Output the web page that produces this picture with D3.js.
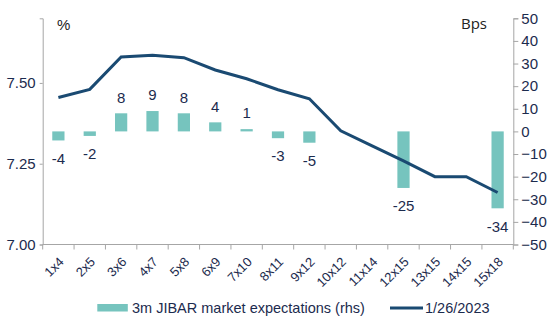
<!DOCTYPE html>
<html>
<head>
<meta charset="utf-8">
<script src="https://cdn.jsdelivr.net/npm/d3@7"></script>
<style>
  body { margin: 0; background: #fff; }
  svg { font-family: "Liberation Sans", Arial, sans-serif; }
</style>
</head>
<body>
<div id="grafiek"></div>
<script>
// tenors on the x axis
const TENORS = ['1x4','2x5','3x6','4x7','5x8','6x9','7x10','8x11','9x12','10x12','11x14','12x15','13x15','14x15','15x18']
// FRA curve 1/26/2023 (%, lhs)
const CURVE = [7.455, 7.48, 7.58, 7.586, 7.578, 7.54, 7.513, 7.479, 7.451, 7.352, 7.305, 7.259, 7.21, 7.21, 7.161]
// 3m JIBAR market expectations (bps, rhs) - null = no bar
const EXPECT = [-4, -2, 8, 9, 8, 4, 1, -3, -5, null, null, -25, null, null, -34]
const LEFT_TICKS = [7.00, 7.25, 7.50]
const RIGHT_TICKS = [-50, -40, -30, -20, -10, 0, 10, 20, 30, 40, 50]

const W = 550, H = 334
const MARGIN = {top: 18.3, left: 42.7, right: 36.7, bottom: 89.5}
const WIDTH = W - MARGIN.left - MARGIN.right
const HEIGHT = H - MARGIN.top - MARGIN.bottom

const TEAL = '#76c4be'
const NAVY = '#1a4a72'
const TXT = '#1c2b4e'
const AXIS = '#a6a6a6'

const SVG = d3.select('#grafiek').append('svg')
  .attr('width', W).attr('height', H)

const G = SVG.append('g')
  .attr('transform', `translate(${MARGIN.left}, ${MARGIN.top})`)

const x = d3.scaleBand().domain(TENORS).range([0, WIDTH])
const yL = d3.scaleLinear().domain([7.0, 7.7]).range([HEIGHT, 0])
const yR = d3.scaleLinear().domain([-50, 50]).range([HEIGHT, 0])

// left axis
const axL = G.append('g')
  .call(d3.axisLeft(yL).tickValues(LEFT_TICKS).tickFormat(d3.format('.2f')).tickSize(3).tickPadding(4))
axL.selectAll('text').style('font-size', '15px').attr('fill', TXT)

// right axis
const axR = G.append('g')
  .attr('transform', `translate(${WIDTH}, 0)`)
  .call(d3.axisRight(yR).tickValues(RIGHT_TICKS).tickSize(5).tickPadding(3))
axR.selectAll('text').style('font-size', '15px').attr('fill', TXT)

// x axis, ticks on the band edges
const axX = G.append('g')
  .attr('transform', `translate(0, ${HEIGHT})`)
axX.append('line').attr('x1', 0).attr('x2', WIDTH).attr('stroke', AXIS)
axX.selectAll('.edge')
  .data(d3.range(TENORS.length + 1))
  .join('line')
    .attr('x1', i => i * x.bandwidth()).attr('x2', i => i * x.bandwidth())
    .attr('y1', 0).attr('y2', 5)
    .attr('stroke', AXIS)
axX.selectAll('.lab')
  .data(TENORS)
  .join('text')
    .attr('transform', d => `translate(${x(d) + x.bandwidth() / 2 + 3}, 15) rotate(-45)`)
    .attr('text-anchor', 'end')
    .attr('dy', '0.35em')
    .style('font-size', '13px')
    .attr('fill', TXT)
    .text(d => d)

SVG.selectAll('.domain, .tick line').attr('stroke', AXIS)

// bars
const barW = x.bandwidth() * 0.39
const bars = TENORS.map((t, i) => ({t, v: EXPECT[i]})).filter(d => d.v !== null)
G.selectAll('.bar')
  .data(bars)
  .join('rect')
    .attr('x', d => x(d.t) + (x.bandwidth() - barW) / 2)
    .attr('width', barW)
    .attr('y', d => yR(Math.max(0, d.v)))
    .attr('height', d => Math.abs(yR(d.v) - yR(0)))
    .attr('fill', TEAL)

G.selectAll('.val')
  .data(bars)
  .join('text')
    .attr('x', d => x(d.t) + x.bandwidth() / 2)
    .attr('y', d => d.v >= 0 ? yR(d.v) - 16 : yR(d.v) + 18)
    .attr('dy', '0.35em')
    .attr('text-anchor', 'middle')
    .style('font-size', '15px')
    .attr('fill', TXT)
    .text(d => d.v)

// line
const line = d3.line()
  .x((d, i) => x(TENORS[i]) + x.bandwidth() / 2)
  .y(d => yL(d))
G.append('path')
  .datum(CURVE)
  .attr('d', line)
  .attr('fill', 'none')
  .attr('stroke', NAVY)
  .attr('stroke-width', 3)

// units
SVG.append('text').attr('x', 57).attr('y', 30).style('font-size', '15px').attr('fill', '#222').text('%')
SVG.append('text').attr('x', 461).attr('y', 29).style('font-size', '15px')
  .style('font-family', '"Open Sans", "DejaVu Sans", sans-serif').attr('fill', '#222').text('Bps')

// legend
const LEG = SVG.append('g')
LEG.append('rect').attr('x', 97.3).attr('y', 304).attr('width', 30.5).attr('height', 7.5).attr('fill', TEAL)
LEG.append('text').attr('x', 132).attr('y', 308).attr('dy', '0.35em').style('font-size', '14.5px').attr('fill', TXT)
  .text('3m JIBAR market expectations (rhs)')
LEG.append('line').attr('x1', 390).attr('x2', 423).attr('y1', 308).attr('y2', 308).attr('stroke', NAVY).attr('stroke-width', 3)
LEG.append('text').attr('x', 425).attr('y', 308).attr('dy', '0.35em').style('font-size', '14.5px').attr('fill', TXT)
  .text('1/26/2023')
</script>
</body>
</html>
